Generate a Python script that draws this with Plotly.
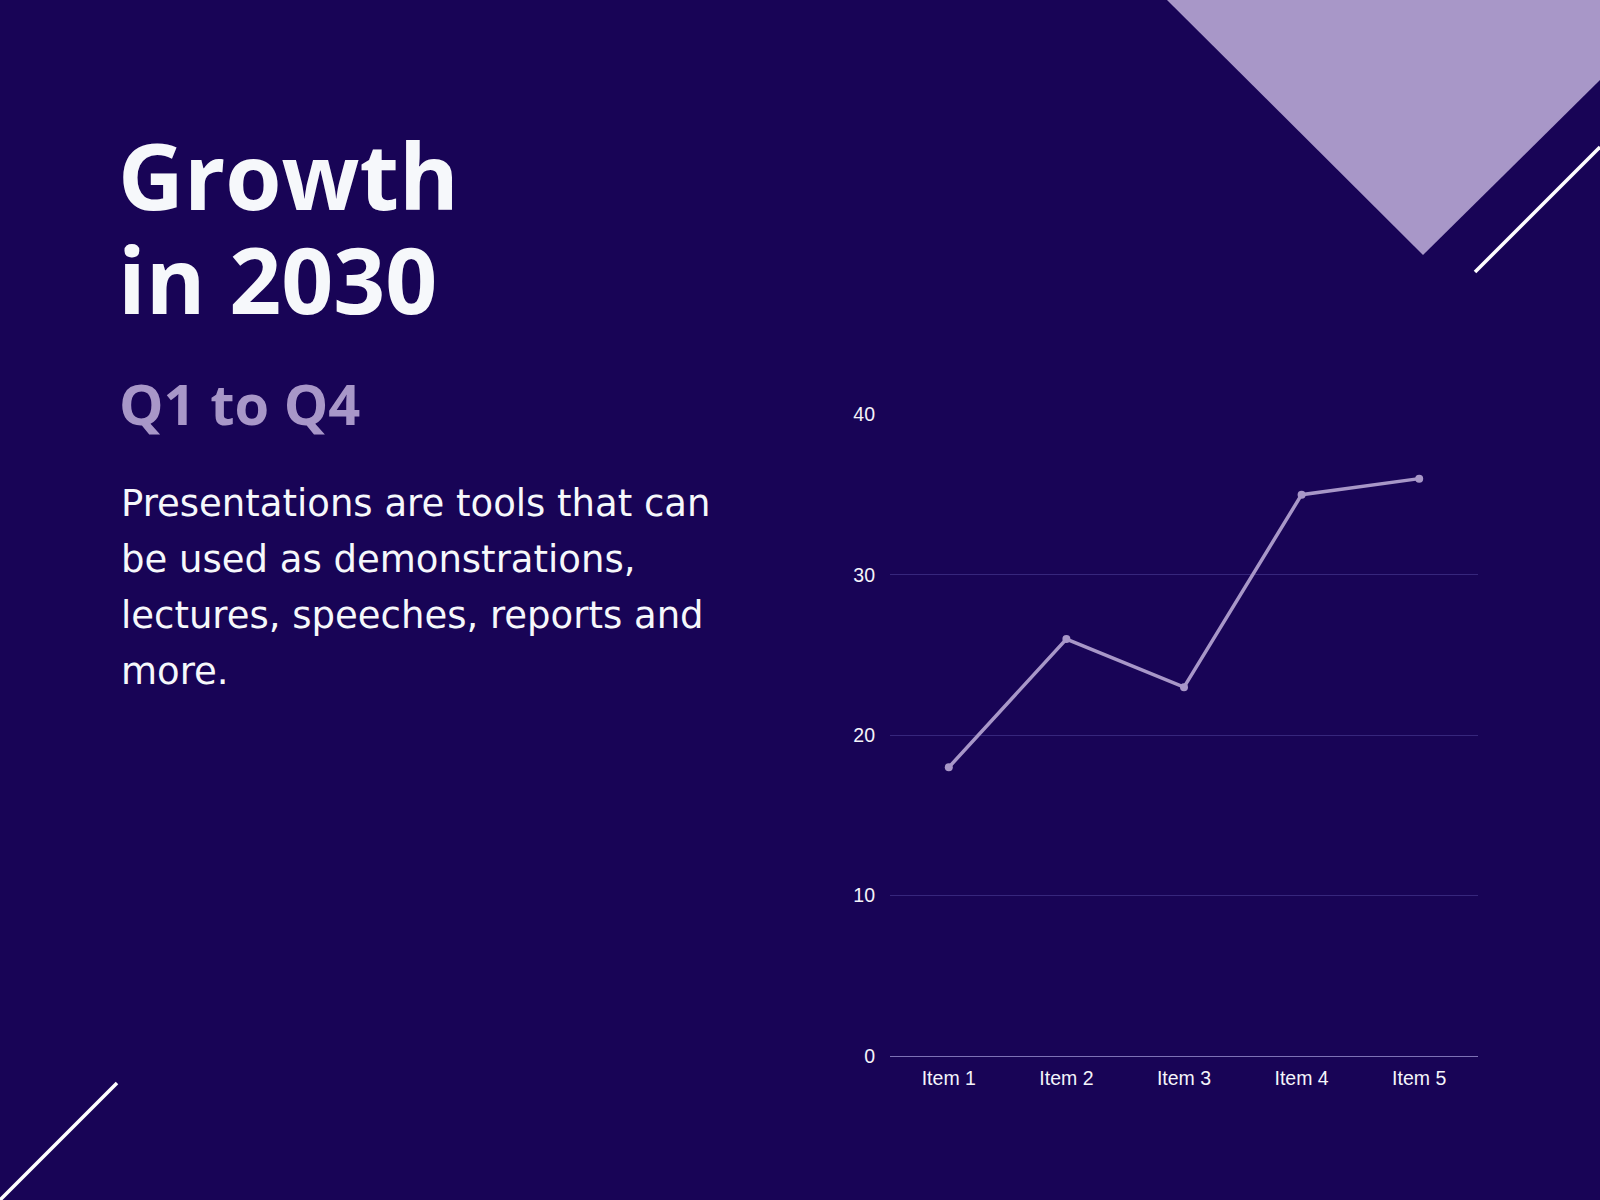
import plotly.graph_objects as go

# data
items = ['Item 1', 'Item 2', 'Item 3', 'Item 4', 'Item 5']
values = [18, 26, 23, 35, 36]
y_ticks = [0, 10, 20, 30, 40]

title_lines = ['Growth', 'in 2030']
subtitle = 'Q1 to Q4'
body_lines = ['Presentations are tools that can',
              'be used as demonstrations,',
              'lectures, speeches, reports and',
              'more.']

bg = '#180456'
lavender = '#a897c8'
W, H = 1600, 1200

fig = go.Figure()

fig.add_trace(go.Scatter(
    x=items,
    y=values,
    mode='lines+markers',
    line=dict(color=lavender, width=3.5),
    marker=dict(color=lavender, size=8),
    hoverinfo='x+y',
))

# helper: pixel -> paper
def px(x):
    return x / W

def py(y):
    return 1 - y / H

shapes = [
    # lavender triangle at top right
    dict(type='path', xref='paper', yref='paper',
         path='M {},{} L {},{} L {},{} L {},{} Z'.format(
             px(1167), py(0), px(1600), py(0), px(1600), py(80), px(1423), py(255)),
         fillcolor=lavender, line=dict(width=0), layer='below'),
    # white diagonal lines
    dict(type='line', xref='paper', yref='paper',
         x0=px(1475), y0=py(272), x1=px(1600), y1=py(147),
         line=dict(color='white', width=3.5)),
    dict(type='line', xref='paper', yref='paper',
         x0=px(0), y0=py(1200), x1=px(117), y1=py(1083),
         line=dict(color='white', width=3.5)),
]

annotations = []
title_font = 'Open Sans'
# title boxes are shortened to 104px so the two lines don't overlap;
# the text stays centred, so the anchor is offset to keep the baselines
title_baselines = [213, 317]
for line, base in zip(title_lines, title_baselines):
    annotations.append(dict(
        text='<b>' + line + '</b>', xref='paper', yref='paper',
        x=px(116), y=py(base + 16), xanchor='left', yanchor='bottom',
        height=104, valign='middle',
        showarrow=False, font=dict(family=title_font, size=91, color='#f6f8fb')))

annotations.append(dict(
    text='<b>' + subtitle + '</b>', xref='paper', yref='paper',
    x=px(117), y=py(428 + 15), xanchor='left', yanchor='bottom',
    showarrow=False, font=dict(family=title_font, size=56, color=lavender)))

for i, line in enumerate(body_lines):
    annotations.append(dict(
        text=line, xref='paper', yref='paper',
        x=px(119), y=py(517 + 10 + i * 56), xanchor='left', yanchor='bottom',
        showarrow=False, font=dict(family='DejaVu Sans', size=37, color='#f6f8fb')))

fig.update_layout(
    width=W, height=H,
    margin=dict(l=0, r=0, t=0, b=0, autoexpand=False),
    paper_bgcolor=bg,
    plot_bgcolor=bg,
    showlegend=False,
    shapes=shapes,
    annotations=annotations,
    font=dict(family='Liberation Sans, Arial', size=19.5, color='#f4f4fa'),
    xaxis=dict(
        domain=[px(890), px(1478)],
        range=[-0.5, 4.5],
        showgrid=False,
        zeroline=False,
        showline=True,
        linecolor='#7d71b5',
        linewidth=1,
        ticks='',
        ticklabelstandoff=5,
        fixedrange=True,
    ),
    yaxis=dict(
        domain=[py(1056), py(414)],
        range=[0, 40.03],
        tickvals=y_ticks,
        showgrid=True,
        gridcolor='#36267c',
        gridwidth=1,
        zeroline=False,
        showline=False,
        ticks='',
        ticklabelstandoff=14,
        fixedrange=True,
    ),
)

fig.write_html("out.html", config={'displayModeBar': False},
               post_script="document.body.style.margin='0px';")
